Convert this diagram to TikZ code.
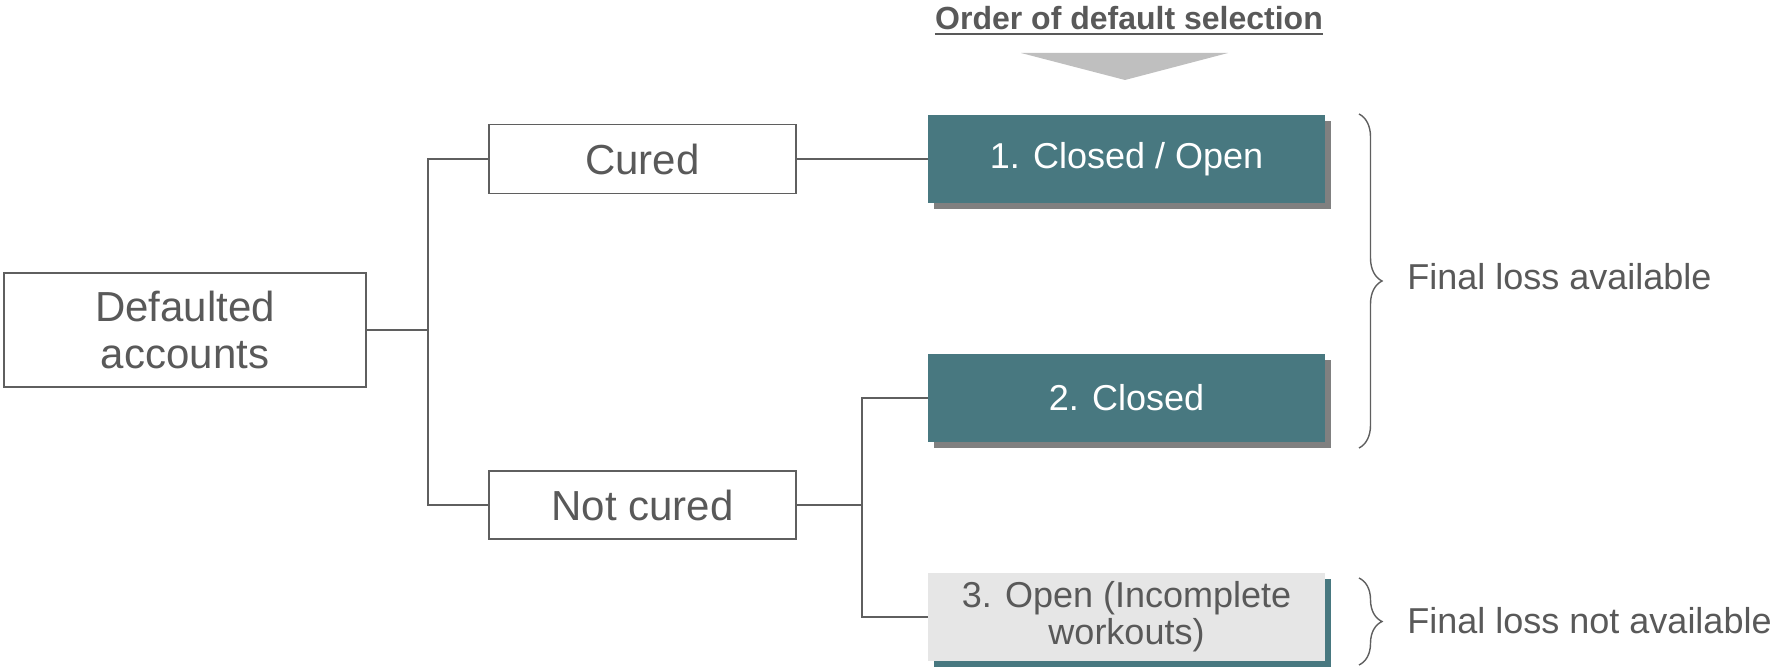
\documentclass[tikz,border=0pt]{standalone}
\usepackage{fontspec}
\setmainfont{Liberation Sans}
\usetikzlibrary{shadows,decorations.pathreplacing}
\definecolor{txtgrey}{HTML}{595959}
\definecolor{linegrey}{HTML}{5F5F5F}
\definecolor{tealbox}{HTML}{487880}
\definecolor{shadowgrey}{HTML}{808080}
\definecolor{lightfill}{HTML}{E6E6E6}
\definecolor{arrowgrey}{HTML}{BFBFBF}
\begin{document}
\begin{tikzpicture}[x=0.5pt,y=-0.5pt,
  leftbox/.style={draw=linegrey, line width=0.8pt, fill=white, inner sep=0pt,
    text=txtgrey, align=center, font=\fontsize{21}{23.5}\selectfont},
  rightbox/.style={inner sep=0pt, minimum width=198.5pt, minimum height=44pt,
    align=center, font=\fontsize{18}{18.5}\selectfont},
  tealnode/.style={rightbox, fill=tealbox, text=white,
    general shadow={fill=shadowgrey, shadow xshift=3pt, shadow yshift=-3pt}},
  greynode/.style={rightbox, fill=lightfill, text=txtgrey,
    general shadow={fill=tealbox, shadow xshift=3pt, shadow yshift=-3pt}},
  conn/.style={draw=linegrey, line width=0.8pt},
  bracestyle/.style={draw=linegrey, line width=0.7pt,
    decorate, decoration={brace, amplitude=11.5pt}},
  note/.style={text=txtgrey, inner sep=0pt, font=\fontsize{18}{20}\selectfont}
]
\useasboundingbox (0,0) rectangle (1782,668);

% title
\node[text=txtgrey, inner xsep=0pt, anchor=base, font=\fontsize{16}{18}\selectfont\bfseries]
  (title) at (1129,30) {Order of default selection};
\draw[txtgrey, line width=1pt] ([yshift=-1.8pt]title.base west) -- ([yshift=-1.8pt]title.base east);
\fill[arrowgrey] (1021,53) -- (1228,53) -- (1125,80) -- cycle;

% left boxes
\node[leftbox, minimum width=181pt, minimum height=57pt] (def) at (185,330) {Defaulted\\accounts};
\node[leftbox, minimum width=153.5pt, minimum height=34.5pt] (cured) at (642.5,159) {Cured};
\node[leftbox, minimum width=153.5pt, minimum height=34pt] (nc) at (642.5,505) {Not cured};

% right boxes
\node[tealnode] (b1) at (1126.5,159) {1. Closed / Open};
\node[tealnode] (b2) at (1126.5,398) {2. Closed};
\node[greynode] (b3) at (1126.5,617) {3. Open (Incomplete\\workouts)};

% connectors
\coordinate (trunk) at (428,330);
\coordinate (split) at (862,505);
\draw[conn] (def.east) -- (trunk) |- (cured.west);
\draw[conn] (trunk) |- (nc.west);
\draw[conn] (cured.east) -- (b1.west);
\draw[conn] (nc.east) -- (split) |- (b2.west);
\draw[conn] (split) |- (b3.west);

% braces
\coordinate (br1t) at (1359,114);
\coordinate (br1b) at (1359,448);
\coordinate (br2t) at (1359,578);
\coordinate (br2b) at (1359,665);
\draw[bracestyle] (br1t) -- (br1b);
\draw[bracestyle] (br2t) -- (br2b);
\node[note, anchor=base west] (fla) at (1407,290) {Final loss available};
\node[note, anchor=base west] (flna) at (1407,633) {Final loss not available};
\end{tikzpicture}
\end{document}
